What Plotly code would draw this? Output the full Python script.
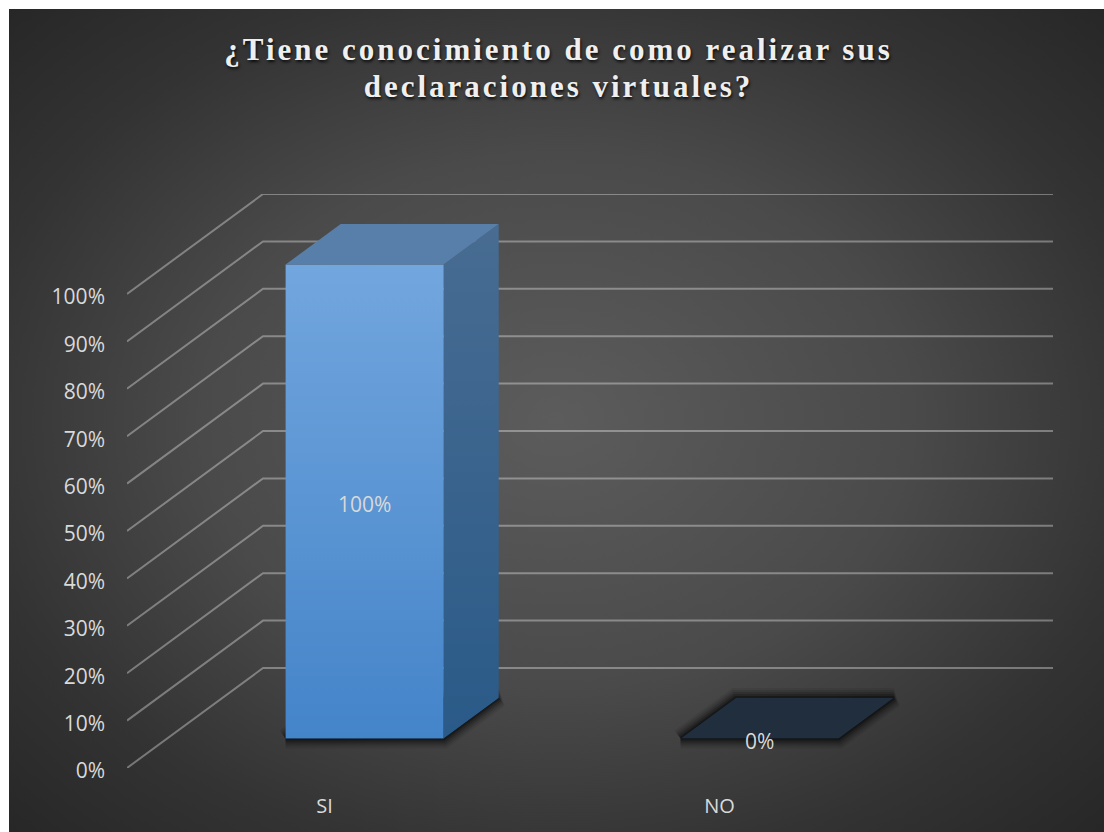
import base64
import plotly.graph_objects as go

# ---- data -----------------------------------------------------------
TITLE = "¿Tiene conocimiento de como realizar sus<br>declaraciones virtuales?"
CATEGORIES = ["SI", "NO"]
VALUES = [100, 0]
VALUE_LABELS = ["100%", "0%"]
Y_TICKS = [0, 10, 20, 30, 40, 50, 60, 70, 80, 90, 100]
Y_TICK_LABELS = ["0%", "10%", "20%", "30%", "40%", "50%", "60%", "70%", "80%", "90%", "100%"]

# ---- page geometry --------------------------------------------------
W, H = 1104, 832
PLOT_L, PLOT_R, PLOT_T, PLOT_B = 127, 1053, 194, 768
CAT_PX = 395.0
VAL_PX = 4.74
WALL_DX = 136 / CAT_PX      # full depth, in category units
WALL_DY = 100 / VAL_PX      # full depth, in value units
X0 = -0.5
X1 = X0 + len(CATEGORIES) + WALL_DX
Y1 = (PLOT_B - PLOT_T) / VAL_PX
BAR_W = 0.4
BAR_D0, BAR_D1 = 0.295, 0.70

FONT = "Open Sans"
TXT = "#d9d9d9"


def proj(x, v, d):
    """Oblique projection of (category, value, depth) to axis coordinates."""
    return x + d * WALL_DX, v + d * WALL_DY


def poly(points):
    xs, ys = zip(*[proj(*p) for p in points])
    return list(xs) + [xs[0]], list(ys) + [ys[0]]


fig = go.Figure()

# walls
for t in Y_TICKS:
    xs = [X0, X0 + WALL_DX, X1]
    ys = [t, t + WALL_DY, t + WALL_DY]
    fig.add_trace(go.Scatter(x=xs, y=ys, mode="lines", hoverinfo="skip", cliponaxis=False,
                             line=dict(color="rgba(255,255,255,0.34)", width=2)))

# bars
for i, (cat, v, lab) in enumerate(zip(CATEGORIES, VALUES, VALUE_LABELS)):
    l, r = i - BAR_W / 2, i + BAR_W / 2
    fx, fy = poly([(l, 0, BAR_D0), (r, 0, BAR_D0), (r, 0, BAR_D1), (l, 0, BAR_D1)])
    for width, alpha in [(20, 0.07), (16, 0.10), (12, 0.14), (8, 0.20), (4, 0.30)]:
        fig.add_trace(go.Scatter(x=fx, y=fy, mode="lines", hoverinfo="skip", cliponaxis=False,
                                 fill="toself", fillcolor="rgba(0,0,0,0.3)",
                                 line=dict(color=f"rgba(0,0,0,{alpha})", width=width)))
    if v > 0:
        sx, sy = poly([(r, 0, BAR_D0), (r, 0, BAR_D1), (r, v, BAR_D1), (r, v, BAR_D0)])
        fig.add_trace(go.Scatter(x=sx, y=sy, mode="lines", fill="toself", hoverinfo="skip",
                                 cliponaxis=False, line=dict(width=0),
                                 fillgradient=dict(type="vertical",
                                                   colorscale=[[0, "#2a5a88"], [1, "#486c92"]])))
        ax, ay = poly([(l, 0, BAR_D0), (r, 0, BAR_D0), (r, v, BAR_D0), (l, v, BAR_D0)])
        fig.add_trace(go.Scatter(x=ax, y=ay, mode="lines", fill="toself", hoverinfo="skip",
                                 cliponaxis=False, line=dict(width=0),
                                 fillgradient=dict(type="vertical",
                                                   colorscale=[[0, "#4484c9"], [1, "#72a6de"]])))
    tx, ty = poly([(l, v, BAR_D0), (r, v, BAR_D0), (r, v, BAR_D1), (l, v, BAR_D1)])
    fig.add_trace(go.Scatter(x=tx, y=ty, mode="lines", fill="toself", hoverinfo="skip",
                             cliponaxis=False, line=dict(width=0),
                             fillcolor="#587fa9" if v > 0 else "#202e3e"))
    cx, cy = proj(i, v / 2, BAR_D0)
    fig.add_trace(go.Scatter(x=[cx], y=[cy], mode="text", text=[lab], textposition="middle center",
                             cliponaxis=False, hoverinfo="skip",
                             textfont=dict(family=FONT, size=21, color=TXT)))

# radial background as an embedded SVG
svg = f"""<svg xmlns="http://www.w3.org/2000/svg" width="{W-9}" height="{H-9}">
<defs><radialGradient id="g" cx="0.5" cy="0.5" r="0.72">
<stop offset="0" stop-color="#5c5c5c"/><stop offset="0.45" stop-color="#4a4a4a"/>
<stop offset="0.75" stop-color="#333333"/><stop offset="1" stop-color="#262626"/></radialGradient></defs>
<rect width="100%" height="100%" fill="url(#g)"/></svg>"""
uri = "data:image/svg+xml;base64," + base64.b64encode(svg.encode()).decode()

fig.update_layout(
    width=W, height=H, showlegend=False,
    paper_bgcolor="white", plot_bgcolor="rgba(0,0,0,0)",
    margin=dict(l=0, r=0, t=0, b=0, pad=0),
    title=dict(text=TITLE, x=558.5 / W, xanchor="center", y=1 - 60 / H, yanchor="top",
               font=dict(family="Liberation Serif", size=31, color="#efefef", weight="bold",
                         shadow="1px 2px 3px rgba(0,0,0,0.8)")),
    xaxis=dict(domain=[PLOT_L / W, PLOT_R / W], range=[X0, X1], tickvals=list(range(len(CATEGORIES))),
               ticktext=CATEGORIES, showgrid=False, zeroline=False, showline=False, ticks="",
               automargin=False, ticklabelstandoff=24, tickfont=dict(family=FONT, size=20, color=TXT)),
    yaxis=dict(domain=[1 - PLOT_B / H, 1 - PLOT_T / H], range=[0, Y1], tickvals=Y_TICKS,
               ticktext=Y_TICK_LABELS, showgrid=False, zeroline=False, showline=False, ticks="",
               automargin=False, ticklabelstandoff=21, tickfont=dict(family=FONT, size=21, color=TXT)),
    images=[dict(source=uri, xref="paper", yref="paper", x=9 / W, y=1 - 9 / H,
                 sizex=(W - 9) / W, sizey=(H - 9) / H, xanchor="left", yanchor="top",
                 sizing="stretch", layer="below")],
)

fig.write_html("out.html", config=dict(displayModeBar=False), post_script="""
document.body.style.margin='0';document.body.style.overflow='hidden';
document.querySelectorAll('.gtitle').forEach(function(e){
  e.style.letterSpacing='3px';
  var ls=e.querySelectorAll('tspan.line');
  if(ls.length>1){ls[1].setAttribute('y',parseFloat(ls[1].getAttribute('y'))-3);}
});
document.querySelectorAll('.ytick text').forEach(function(t){t.setAttribute('dy','3');});
document.querySelectorAll('.textpoint text').forEach(function(t){t.setAttribute('dy','5');});
""")
